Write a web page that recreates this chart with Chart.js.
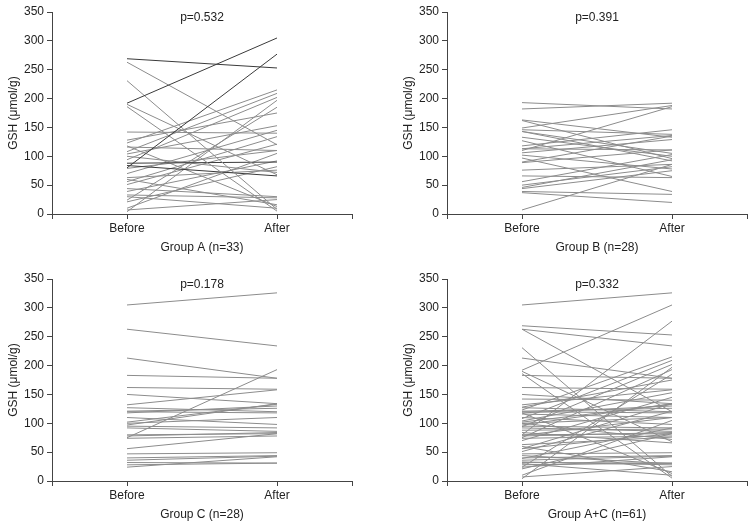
<!DOCTYPE html>
<html>
<head>
<meta charset="utf-8">
<script src="https://cdn.jsdelivr.net/npm/chart.js@4"></script>
<style>
  body { margin: 0; background: #fff; }
  #wrap { position: relative; width: 753px; height: 529px; }
  .panel { position: absolute; width: 358px; height: 262px; }
</style>
</head>
<body>
<div id="wrap">
  <div class="panel" style="left:0;top:0"><canvas id="chartA" width="358" height="262"></canvas></div>
  <div class="panel" style="left:395px;top:0"><canvas id="chartB" width="358" height="262"></canvas></div>
  <div class="panel" style="left:0;top:267px"><canvas id="chartC" width="358" height="262"></canvas></div>
  <div class="panel" style="left:395px;top:267px"><canvas id="chartD" width="358" height="262"></canvas></div>
</div>
<script>
// GSH (umol/g) before / after, one pair per subject
const groupABefore = [269, 192, 80, 263, 231, 190, 186, 142, 128, 123, 116, 108, 104, 94, 88, 84, 79, 70, 63, 56, 51, 44, 39, 33, 30, 24, 21, 10, 7, 4, 118, 100, 60];
const groupAAfter  = [253, 305, 277, 120, 8, 68, 5, 140, 175, 215, 110, 209, 153, 202, 90, 66, 110, 145, 76, 134, 121, 30, 92, 28, 10, 185, 82, 105, 25, 197, 13, 72, 16];

const groupBBefore = [193, 182, 163, 162, 149, 146, 143, 133, 118, 113, 110, 106, 102, 90, 89, 76, 66, 56, 50, 46, 44, 39, 37, 7, 127, 97, 113, 143];
const groupBAfter  = [182, 192, 133, 96, 188, 138, 92, 100, 146, 111, 186, 129, 78, 135, 111, 86, 63, 103, 82, 94, 75, 34, 20, 86, 65, 39, 136, 105];

const groupCBefore = [305, 263, 213, 183, 162, 150, 132, 127, 121, 120, 102, 100, 97, 95, 92, 80, 78, 75, 74, 56, 47, 40, 36, 32, 28, 24, 118, 110];
const groupCAfter  = [326, 234, 178, 178, 159, 134, 158, 120, 126, 118, 133, 110, 134, 92, 86, 82, 84, 193, 78, 82, 49, 44, 43, 31, 31, 42, 130, 98];

const timeLabels = ['Before', 'After'];
const yTicks = [0, 50, 100, 150, 200, 250, 300, 350];
const pValues = ['p=0.532', 'p=0.391', 'p=0.178', 'p=0.332'];
const groupTitles = ['Group A (n=33)', 'Group B (n=28)', 'Group C (n=28)', 'Group A+C (n=61)'];

// lines drawn darker in group A
const darkA = [0, 1, 2, 14, 15];

Chart.defaults.font.family = "'Liberation Sans', Arial, sans-serif";
Chart.defaults.font.size = 12;
Chart.defaults.color = '#222';

const pLabel = {
  id: 'pLabel',
  afterDraw(chart, args, opts) {
    const ctx = chart.ctx;
    const x = chart.scales.x.getPixelForValue(0.5);
    const y = chart.scales.y.getPixelForValue(340);
    ctx.save();
    ctx.font = "12px 'Liberation Sans', Arial, sans-serif";
    ctx.fillStyle = '#222';
    ctx.textAlign = 'center';
    ctx.textBaseline = 'middle';
    ctx.fillText(opts.text, x, y);
    ctx.restore();
  }
};

const makePanel = (canvasId, before, after, pText, title, darkIdx) => {
  const datasets = before.map((b, i) => ({
    data: [{ x: 0, y: b }, { x: 1, y: after[i] }],
    borderColor: darkIdx.includes(i) ? '#3a3a3a' : '#8c8c8c',
    borderWidth: 1,
    pointRadius: 0,
    fill: false,
  }));
  new Chart(document.getElementById(canvasId), {
    type: 'line',
    data: { datasets },
    plugins: [pLabel],
    options: {
      responsive: false,
      animation: false,
      layout: { padding: { top: 12, right: 6, left: 0, bottom: 0 } },
      plugins: {
        legend: { display: false },
        tooltip: { enabled: false },
        pLabel: { text: pText },
      },
      scales: {
        x: {
          type: 'linear',
          min: -0.5,
          max: 1.5,
          afterBuildTicks: (scale) => {
            scale.ticks = [-0.5, 0, 1, 1.5].map(v => ({ value: v }));
          },
          afterFit: (scale) => { scale.height = 48; },
          ticks: {
            autoSkip: false,
            maxRotation: 0,
            padding: 2,
            callback: (v) => (v === 0 ? timeLabels[0] : v === 1 ? timeLabels[1] : ''),
          },
          grid: { drawOnChartArea: false, tickLength: 5, color: '#444' },
          border: { display: true, color: '#444' },
          title: { display: true, text: title, padding: { top: 4, bottom: 7 } },
        },
        y: {
          min: 0,
          max: 350,
          afterBuildTicks: (scale) => {
            scale.ticks = yTicks.map(v => ({ value: v }));
          },
          afterFit: (scale) => { scale.width = 52; },
          ticks: { padding: 3 },
          grid: { drawOnChartArea: false, tickLength: 5, color: '#444' },
          border: { display: true, color: '#444' },
          title: { display: true, text: 'GSH (μmol/g)', padding: { top: 6, bottom: 0 } },
        },
      },
    },
  });
};

makePanel('chartA', groupABefore, groupAAfter, pValues[0], groupTitles[0], darkA);
makePanel('chartB', groupBBefore, groupBAfter, pValues[1], groupTitles[1], []);
makePanel('chartC', groupCBefore, groupCAfter, pValues[2], groupTitles[2], []);
makePanel('chartD', groupABefore.concat(groupCBefore), groupAAfter.concat(groupCAfter), pValues[3], groupTitles[3], []);
</script>
</body>
</html>
